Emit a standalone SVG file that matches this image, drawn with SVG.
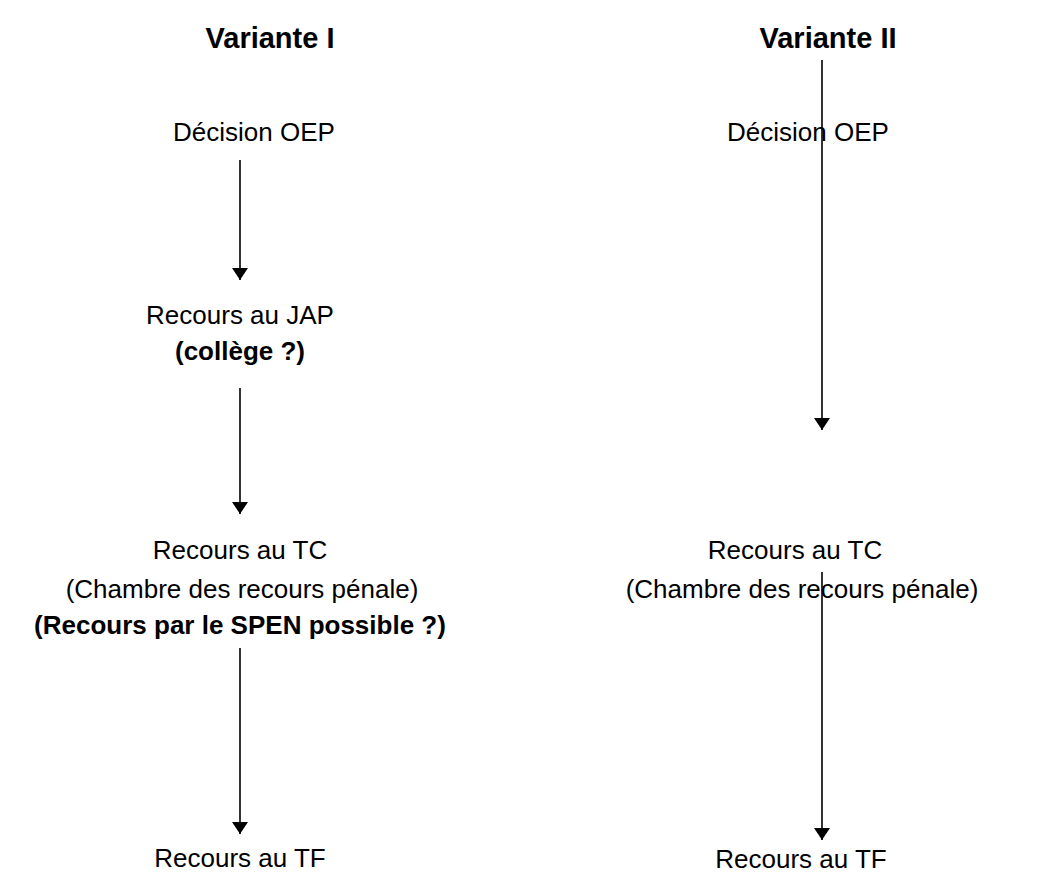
<svg xmlns="http://www.w3.org/2000/svg" width="1047" height="875" viewBox="0 0 1047 875">
<defs>
<marker id="ah" viewBox="0 0 12 16" refX="12" refY="8" markerWidth="12" markerHeight="16" markerUnits="userSpaceOnUse" orient="auto">
<path d="M0,0 L16,8 L0,16 z" transform="scale(0.75,1)" fill="#000"/>
</marker>
<style>
text{font-family:"Liberation Sans",Arial,sans-serif;font-size:26px;fill:#000;text-anchor:middle}
.b{font-weight:bold}
.t{font-size:29px}
.c{stroke:#000;stroke-width:1.6;fill:none;marker-end:url(#ah)}
</style>
</defs>
<rect width="1047" height="875" fill="#fff"/>
<g id="connectors">
<line class="c" x1="240" y1="160" x2="240" y2="280"/>
<line class="c" x1="240" y1="388" x2="240" y2="514"/>
<line class="c" x1="240" y1="648" x2="240" y2="834"/>
<line class="c" x1="822" y1="60" x2="822" y2="430"/>
<line class="c" x1="822" y1="572" x2="822" y2="840"/>
</g>
<g id="variante1"><text class="b t" x="270" y="48">Variante I</text></g>
<g id="variante2"><text class="b t" x="828" y="48">Variante II</text></g>
<g id="decision1"><text x="254" y="141">Décision OEP</text></g>
<g id="decision2"><text x="808" y="141">Décision OEP</text></g>
<g id="jap"><text x="240" y="324">Recours au JAP</text><text class="b" x="240" y="360">(collège ?)</text></g>
<g id="tc1"><text x="240" y="559">Recours au TC</text><text x="242" y="598">(Chambre des recours pénale)</text><text class="b" x="240" y="634">(Recours par le SPEN possible ?)</text></g>
<g id="tf1"><text x="240" y="867">Recours au TF</text></g>
<g id="tc2"><text x="795" y="559">Recours au TC</text><text x="802" y="598">(Chambre des recours pénale)</text></g>
<g id="tf2"><text x="801" y="868">Recours au TF</text></g>
</svg>
